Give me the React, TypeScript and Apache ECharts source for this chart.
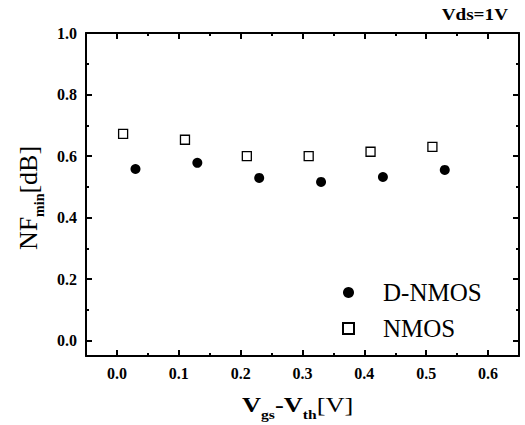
import React, { useEffect, useRef } from "react";
import * as echarts from "echarts";

const xDNMOS = [0.03, 0.13, 0.23, 0.33, 0.43, 0.53];
const yDNMOS = [0.558, 0.578, 0.529, 0.516, 0.532, 0.555];
const xNMOS = [0.01, 0.11, 0.21, 0.31, 0.41, 0.51];
const yNMOS = [0.672, 0.653, 0.6, 0.6, 0.614, 0.63];
const seriesNames = ["D-NMOS", "NMOS"];
const xMajor = [0, 0.1, 0.2, 0.3, 0.4, 0.5, 0.6];
const xMinor = [0.05, 0.15, 0.25, 0.35, 0.45, 0.55];
const yMajor = [0, 0.2, 0.4, 0.6, 0.8, 1.0];
const yMinor = [0.1, 0.3, 0.5, 0.7, 0.9];

const FONT = "Liberation Serif";

function axisDef(kind: "x" | "y", position: string, major: boolean, withLabel: boolean) {
  const isX = kind === "x";
  return {
    type: "value",
    position,
    min: -0.05,
    max: isX ? 0.65 : 1.0,
    axisLine: {
      show: major,
      onZero: false,
      lineStyle: { color: "#000", width: 2 },
    },
    axisTick: {
      show: true,
      inside: true,
      length: major ? 6 : 3,
      customValues: isX ? (major ? xMajor : xMinor) : major ? yMajor : yMinor,
      lineStyle: { color: "#000", width: 2 },
    },
    axisLabel: {
      show: withLabel,
      customValues: isX ? xMajor : yMajor,
      formatter: (v: number) => v.toFixed(1),
      fontFamily: FONT,
      fontWeight: "bold",
      fontSize: 16,
      color: "#000",
      margin: 9,
    },
    splitLine: { show: false },
  };
}

export default function App() {
  const ref = useRef<HTMLDivElement>(null);
  useEffect(() => {
    if (!ref.current) return;
    const chart = echarts.init(ref.current, null, { renderer: "svg" });
    chart.setOption({
      animation: false,
      backgroundColor: "#fff",
      textStyle: { fontFamily: FONT },
      grid: { left: 86, right: 6, top: 33, bottom: 69, containLabel: false, outerBoundsMode: "none" },
      xAxis: [
        axisDef("x", "bottom", true, true),
        axisDef("x", "bottom", false, false),
        axisDef("x", "top", true, false),
        axisDef("x", "top", false, false),
      ],
      yAxis: [
        axisDef("y", "left", true, true),
        axisDef("y", "left", false, false),
        axisDef("y", "right", true, false),
        axisDef("y", "right", false, false),
      ],
      legend: {
        orient: "vertical",
        left: 337,
        top: 275,
        itemWidth: 11,
        itemHeight: 11,
        itemGap: 11,
        data: seriesNames,
        textStyle: {
          fontFamily: FONT,
          fontSize: 25,
          lineHeight: 24,
          color: "#000",
          padding: [0, 0, 0, 24],
        },
      },
      series: [
        {
          name: seriesNames[0],
          type: "scatter",
          xAxisIndex: 0,
          yAxisIndex: 0,
          symbol: "circle",
          symbolSize: 10,
          itemStyle: { color: "#000", opacity: 1 },
          data: xDNMOS.map((x, i) => [x, yDNMOS[i]]),
        },
        {
          name: seriesNames[1],
          type: "scatter",
          xAxisIndex: 0,
          yAxisIndex: 0,
          symbol: "rect",
          symbolSize: 9,
          itemStyle: { color: "#fff", borderColor: "#000", borderWidth: 1.3, opacity: 1 },
          data: xNMOS.map((x, i) => [x, yNMOS[i]]),
        },
      ],
      graphic: [
        {
          type: "text",
          x: 508,
          y: 15,
          scaleX: 1.2,
          style: {
            text: "Vds=1V",
            align: "right",
            verticalAlign: "middle",
            fontFamily: FONT,
            fontWeight: "bold",
            fontSize: 16,
            fill: "#000",
          },
        },
        {
          type: "text",
          x: 242,
          y: 404,
          scaleX: 1.2,
          style: {
            text: "{b|V}{s|gs}{b|-V}{s|th}{r|[V]}",
            align: "left",
            verticalAlign: "middle",
            fill: "#000",
            rich: {
              b: { fontFamily: FONT, fontWeight: "bold", fontSize: 22, lineHeight: 34, fill: "#000" },
              r: { fontFamily: FONT, fontSize: 22, lineHeight: 34, fill: "#000" },
              s: { fontFamily: FONT, fontWeight: "bold", fontSize: 13, lineHeight: 10, verticalAlign: "bottom", fill: "#000" },
            },
          },
        },
        {
          type: "text",
          x: 28,
          y: 198,
          rotation: Math.PI / 2,
          style: {
            text: "{r|NF}{s|min}{r|[dB]}",
            align: "center",
            verticalAlign: "middle",
            fill: "#000",
            rich: {
              r: { fontFamily: FONT, fontSize: 26, lineHeight: 36, fill: "#000" },
              s: { fontFamily: FONT, fontWeight: "bold", fontSize: 14, lineHeight: 10, verticalAlign: "bottom", fill: "#000" },
            },
          },
        },
      ],
    });
    return () => chart.dispose();
  }, []);
  return <div ref={ref} style={{ width: 525, height: 425, position: "absolute", left: 0, top: 0 }} />;
}
